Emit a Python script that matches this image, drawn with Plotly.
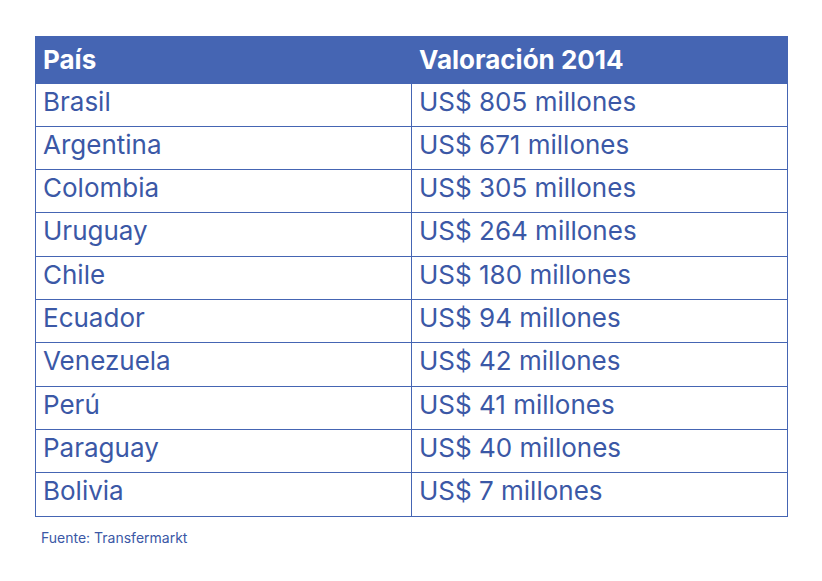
import plotly.graph_objects as go

header = ["País", "Valoración 2014"]
paises = ["Brasil", "Argentina", "Colombia", "Uruguay", "Chile", "Ecuador",
          "Venezuela", "Perú", "Paraguay", "Bolivia"]
valores = [805, 671, 305, 264, 180, 94, 42, 41, 40, 7]
labels = [f"US$ {v} millones" for v in valores]

blue = "#4565b3"
txt = "#3b58a6"
W, H = 822, 581

fig = go.Figure(go.Table(
    domain=dict(x=[27 / W, 779 / W], y=[1 - 540 / H, 1 - 28 / H]),
    columnwidth=[376, 376],
    header=dict(values=[f"<b>{h}</b>" for h in header], fill_color=blue,
                line_color=blue, align="left", height=43,
                font=dict(family="Inter", size=26, color="white")),
    cells=dict(values=[paises, labels], fill_color="white",
               line=dict(color=blue, width=1), align="left", height=43.3,
               font=dict(family="Inter", size=26, color=txt)),
))
fig.add_annotation(x=31 / W, y=1 - 529 / H, xref="paper", yref="paper",
                   text="Fuente: Transfermarkt", showarrow=False,
                   xanchor="left", yanchor="middle",
                   font=dict(family="Inter", size=14, color=txt))
fig.update_layout(width=W, height=H, margin=dict(l=0, r=0, t=0, b=0),
                  paper_bgcolor="white")
fig.write_html("out.html")
